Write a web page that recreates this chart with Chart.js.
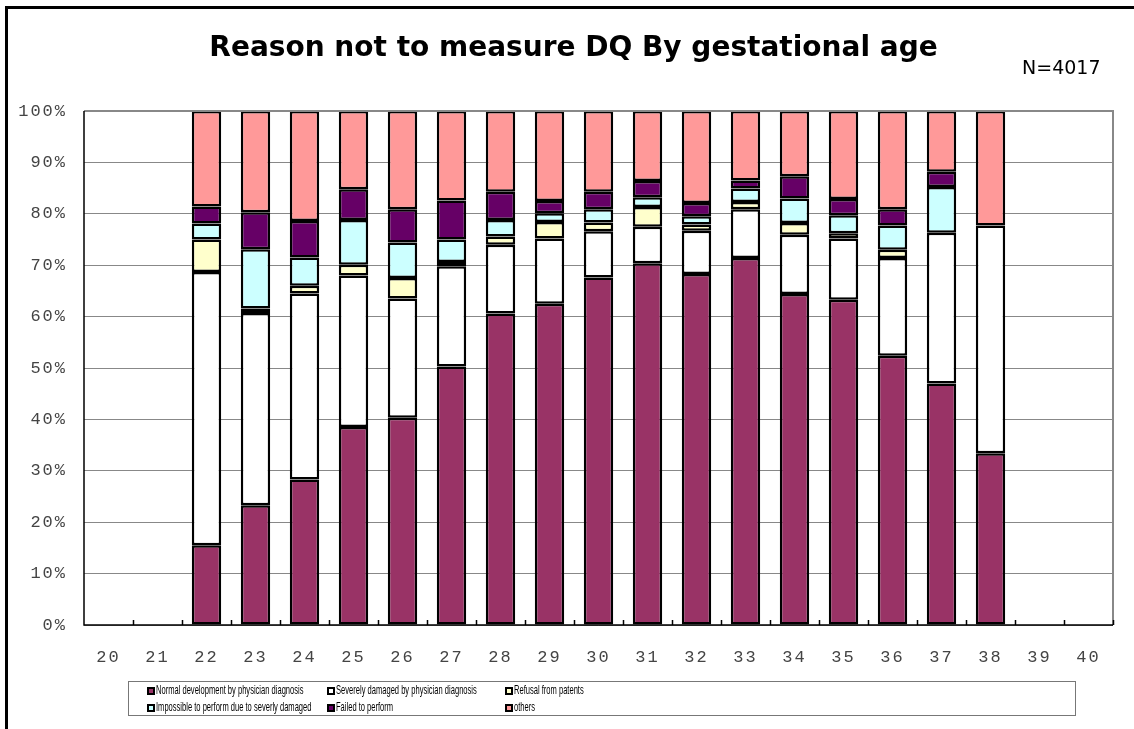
<!DOCTYPE html>
<html>
<head>
<meta charset="utf-8">
<script src="https://cdn.jsdelivr.net/npm/chart.js@4.4.1/dist/chart.umd.min.js"></script>
<style>
  html, body { margin: 0; padding: 0; background: #fff; }
  #wrap { position: relative; width: 1134px; height: 729px; overflow: hidden; }
  #frame { position: absolute; left: 5px; top: 6px; width: 1140px; height: 740px;
           border-left: 3px solid #000; border-top: 3px solid #000; }
  #grafico { position: absolute; left: 0; top: 0; }
  #titolo { position: absolute; left: 0; top: 29px; width: 1147px; text-align: center;
            font: bold 28px "DejaVu Sans", Verdana, sans-serif; line-height: 36px; color: #000; }
  #enne { position: absolute; left: 1022px; top: 56px; font: 19px "DejaVu Sans", Tahoma, sans-serif; color: #000; }
  #legenda { position: absolute; left: 128px; top: 681px; width: 948px; height: 35px;
             border: 1px solid #777; box-sizing: border-box; }
  .marca { position: absolute; width: 8px; height: 8px; border: 2px solid #000; box-sizing: border-box; }
  .voce { position: absolute; white-space: nowrap; font: 13.5px "Liberation Sans", Arial, sans-serif;
          line-height: 16px; transform: scaleX(0.56); transform-origin: left center; color: #000; }
</style>
</head>
<body>
<div id="wrap">
  <div id="frame"></div>
  <canvas id="grafico" width="1134" height="729"></canvas>
  <div id="titolo">Reason not to measure DQ By gestational age</div>
  <div id="enne">N=4017</div>
  <div id="legenda"></div>
</div>
<script>
// settimane di gestazione
var ages = ['20','21','22','23','24','25','26','27','28','29','30','31','32','33','34','35','36','37','38','39','40'];

// percentuali (%)
var normal     = [null,null,15.5,23.3,28.3,38.5,40.3,50.3,60.6,62.5,67.6,70.4,68.3,71.4,64.4,63.3,52.4,47.0,33.4,null,null];
var severe     = [null,null,53.2,37.4,36.2,29.5,23.2,19.5,13.4,12.7, 9.0, 7.1, 8.4, 9.5,11.5,11.9,19.0,29.3,44.3,null,null];
var refusal    = [null,null, 6.3, 0.9, 1.5, 2.1, 4.0, 0.8, 1.6, 3.2, 1.7, 3.8, 1.2, 1.4, 2.3, 1.0, 1.6,null,null,null,null];
var impossible = [null,null, 3.1,11.5, 5.5, 8.7, 6.9, 4.4, 3.2, 1.7, 2.6, 1.9, 1.6, 2.6, 4.8, 3.5, 4.7, 8.9,null,null,null];
var failed     = [null,null, 3.3, 7.2, 7.1, 6.0, 6.5, 7.6, 5.5, 2.4, 3.4, 3.2, 2.6, 1.6, 4.3, 3.2, 3.2, 3.0,null,null,null];
var others     = [null,null,18.6,19.7,21.4,15.2,19.1,17.4,15.7,17.5,15.7,13.6,17.9,13.5,12.7,17.1,19.1,11.8,22.3,null,null];

var seriesNames = ['Normal development by physician diagnosis', 'Severely damaged by physician diagnosis',
  'Refusal from patents', 'Impossible to perform due to severly damaged', 'Failed to perform', 'others'];
var seriesColors = ['#993366', '#FFFFFF', '#FFFFCC', '#CCFFFF', '#660066', '#FF9999'];
var seriesData = [normal, severe, refusal, impossible, failed, others];

var yTicks = [0, 10, 20, 30, 40, 50, 60, 70, 80, 90, 100];

var datasets = [];
for (var i = 0; i < seriesData.length; i++) {
  datasets.push({
    label: seriesNames[i],
    data: seriesData[i],
    backgroundColor: seriesColors[i],
    borderColor: '#000',
    borderWidth: 2.5,
    borderSkipped: false,
    categoryPercentage: 1.0,
    barPercentage: 0.6
  });
}

// legenda html a tre colonne
var colX = [18, 198, 376];
var rowY = [4, 21];
var order = [[0, 0], [1, 0], [2, 0], [0, 1], [1, 1], [2, 1]];
var leg = document.getElementById('legenda');
for (var j = 0; j < seriesNames.length; j++) {
  var m = document.createElement('div');
  m.className = 'marca';
  m.style.left = colX[order[j][0]] + 'px';
  m.style.top = (rowY[order[j][1]] + 1) + 'px';
  m.style.background = seriesColors[j];
  leg.appendChild(m);
  var d = document.createElement('div');
  d.className = 'voce';
  d.style.left = (colX[order[j][0]] + 9) + 'px';
  d.style.top = (rowY[order[j][1]] - 4) + 'px';
  d.textContent = seriesNames[j];
  leg.appendChild(d);
}

// cornice dell'area del grafico e tacche sull'asse x
var cornice = {
  id: 'cornice',
  beforeDraw: function (chart) { chart.ctx.letterSpacing = '2px'; },
  afterDraw: function (chart) {
    var ctx = chart.ctx;
    var a = chart.chartArea;
    ctx.save();
    ctx.letterSpacing = '0px';
    ctx.lineWidth = 2;
    ctx.strokeStyle = '#888';
    ctx.beginPath();
    ctx.moveTo(a.left, a.top);
    ctx.lineTo(a.right, a.top);
    ctx.lineTo(a.right, a.bottom);
    ctx.stroke();
    ctx.strokeStyle = '#000';
    ctx.lineWidth = 1.5;
    ctx.beginPath();
    ctx.moveTo(a.left, a.top);
    ctx.lineTo(a.left, a.bottom);
    ctx.lineTo(a.right, a.bottom);
    var step = (a.right - a.left) / ages.length;
    for (var k = 1; k <= ages.length; k++) {
      var x = Math.round(a.left + k * step) + 0.5;
      ctx.moveTo(x, a.bottom);
      ctx.lineTo(x, a.bottom - 5);
    }
    ctx.stroke();
    ctx.restore();
  }
};

var ctx = document.getElementById('grafico').getContext('2d');
var grafico = new Chart(ctx, {
  type: 'bar',
  data: { labels: ages, datasets: datasets },
  options: {
    responsive: false,
    animation: false,
    layout: { padding: { left: 0, top: 111, right: 21, bottom: 64 } },
    plugins: { legend: { display: false }, title: { display: false }, tooltip: { enabled: false } },
    scales: {
      x: {
        stacked: true,
        grid: { display: false },
        border: { display: false },
        ticks: { color: '#444', padding: 14, font: { family: 'Liberation Mono', size: 17 } },
        afterFit: function (s) { s.height = 40; }
      },
      y: {
        stacked: true,
        min: 0,
        max: 100,
        afterBuildTicks: function (s) { s.ticks = yTicks.map(function (v) { return { value: v }; }); },
        grid: { color: '#888', lineWidth: 1, drawTicks: false },
        border: { display: false },
        ticks: {
          color: '#444', padding: 17,
          font: { family: 'Liberation Mono', size: 17 },
          callback: function (v) { return v + '%'; }
        },
        afterFit: function (s) { s.width = 84; }
      }
    }
  },
  plugins: [cornice]
});
</script>
</body>
</html>
